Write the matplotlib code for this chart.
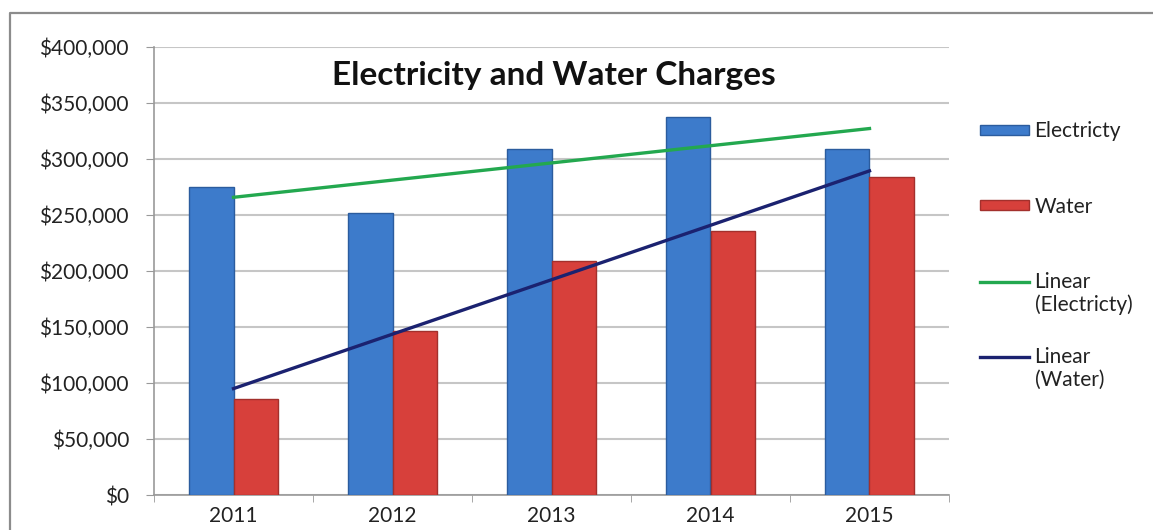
import numpy as np
import matplotlib.pyplot as plt
from matplotlib.lines import Line2D

years = ["2011", "2012", "2013", "2014", "2015"]
electricity = [275000, 252000, 309000, 337500, 309000]
water = [86000, 146000, 209000, 236000, 284000]

plt.rcParams['font.family'] = ['Lato', 'DejaVu Sans']

fig = plt.figure(figsize=(11.53, 5.30), dpi=100)
ax = fig.add_axes([154/1153, 35/530, (949-154)/1153, (495-47)/530])

# outer chart border (only top and left visible in the crop)
fig.lines.append(Line2D([10/1153, 10/1153, 1.0], [0.0, 1 - 13/530, 1 - 13/530],
                        transform=fig.transFigure, color='#8c8c8c', lw=1.6))

x = np.arange(len(years))
w = 0.283
b1 = ax.bar(x - w/2, electricity, w, color='#3d7bcb', edgecolor='#2b5c9e', lw=1.0,
            label='Electricty', zorder=3)
b2 = ax.bar(x + w/2, water, w, color='#d7403b', edgecolor='#a3302c', lw=1.0,
            label='Water', zorder=3)

# linear trendlines
xe = np.arange(1, 6)
pe = np.polyfit(xe, electricity, 1)
pw = np.polyfit(xe, water, 1)
l1, = ax.plot(x, np.polyval(pe, xe), color='#23a84f', lw=2.4, label='Linear', zorder=4)
l2, = ax.plot(x, np.polyval(pw, xe), color='#1b2270', lw=2.4, label='Linear', zorder=4)

ax.set_xlim(-0.5, 4.5)
ax.set_ylim(0, 400000)
ax.set_yticks(np.arange(0, 400001, 50000))
ax.set_yticklabels(['${:,.0f}'.format(v) for v in np.arange(0, 400001, 50000)])
ax.set_xticks(x)
ax.set_xticklabels(years)
ax.set_xticks(np.arange(-0.5, 5, 1), minor=True)
ax.tick_params(axis='x', which='major', length=0, pad=8, labelsize=15, colors='#222222')
ax.tick_params(axis='x', which='minor', length=5, color='#999999', direction='out')
ax.tick_params(axis='y', length=6, color='#999999', labelsize=15, labelcolor='#222222', pad=12)
ax.grid(axis='y', color='#c6c6c6', lw=1.5, zorder=0)
ax.set_axisbelow(True)
for s in ['top', 'right']:
    ax.spines[s].set_visible(False)
ax.spines['left'].set_color('#999999')
ax.spines['bottom'].set_color('#999999')
ax.spines['left'].set_linewidth(1.2)
ax.spines['bottom'].set_linewidth(1.2)

ax.text(0.503, 0.937, 'Electricity and Water Charges', transform=ax.transAxes,
        ha='center', va='center', fontsize=24, fontweight='bold', color='#111111')

leg = fig.legend(handles=[b1, b2, l1, l2], loc='upper left',
                 bbox_to_anchor=(972/1153, 1 - 113/530), frameon=False,
                 fontsize=15, handlelength=2.35, handleheight=0.35,
                 labelspacing=2.65, handletextpad=0.25, borderaxespad=0)
for t in leg.get_texts():
    t.set_color('#222222')

# second line of the trendline labels, under "Linear" (drawn after the legend)
texts = leg.get_texts()
for t, extra in [(texts[2], '(Electricty)'), (texts[3], '(Water)')]:
    fig.add_artist(plt.Annotation(extra, xy=(0, 0), xycoords=t, xytext=(0, -2),
                                  textcoords='offset points', va='top', ha='left',
                                  fontsize=15, color='#222222', zorder=10))

plt.savefig("out.png", dpi=100)
